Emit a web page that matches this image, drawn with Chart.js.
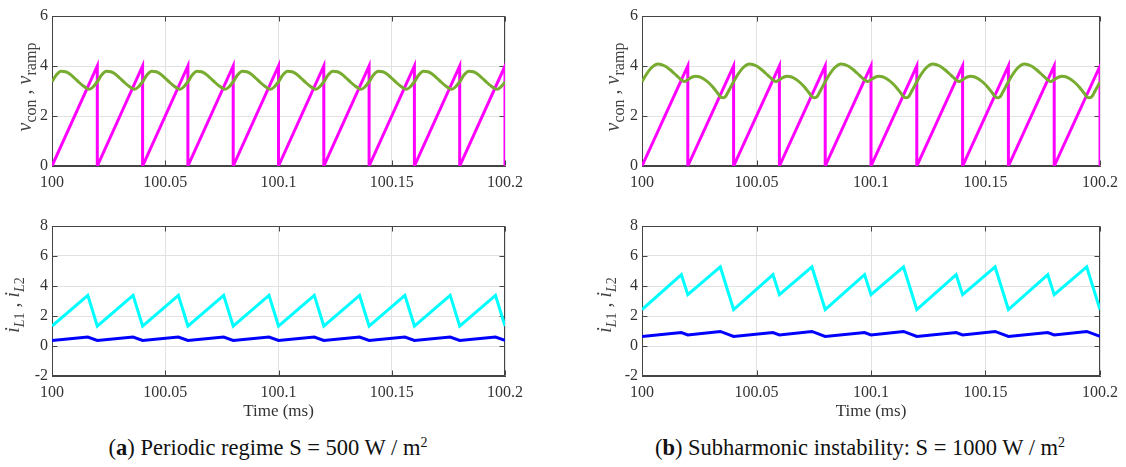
<!DOCTYPE html>
<html>
<head>
<meta charset="utf-8">
<script src="https://cdn.jsdelivr.net/npm/chart.js@4.4.1/dist/chart.umd.min.js"></script>
<style>
  body { margin: 0; background: #fff; }
  #fig { position: relative; width: 1126px; height: 467px; overflow: hidden; font-family: "Liberation Serif", serif; }
  canvas { position: absolute; }
  .ylab { position: absolute; white-space: nowrap; font-size: 20px; color: #444; transform: translate(-50%, -50%) rotate(-90deg); }
  .ylab sub { font-size: 16px; }
  .ylab.cur sub { font-size: 14px; }
  .cap { position: absolute; white-space: nowrap; font-size: 22.5px; color: #111; transform: translate(-50%, -50%); }
  .cap sup { font-size: 14px; }
</style>
</head>
<body>
<div id="fig">
  <canvas id="c1" width="530" height="200" style="left:0;top:0"></canvas>
  <canvas id="c2" width="536" height="200" style="left:590px;top:0"></canvas>
  <canvas id="c3" width="530" height="215" style="left:0;top:210px"></canvas>
  <canvas id="c4" width="536" height="215" style="left:590px;top:210px"></canvas>

  <div class="ylab" style="left:26px;top:87px"><i>v</i><sub>con</sub> , <i>v</i><sub>ramp</sub></div>
  <div class="ylab" style="left:614px;top:87px"><i>v</i><sub>con</sub> , <i>v</i><sub>ramp</sub></div>
  <div class="ylab cur" style="left:14px;top:305px"><i>i</i><sub><i>L</i>1</sub> , <i>i</i><sub><i>L</i>2</sub></div>
  <div class="ylab cur" style="left:606px;top:305px"><i>i</i><sub><i>L</i>1</sub> , <i>i</i><sub><i>L</i>2</sub></div>

  <div class="cap" style="left:268px;top:448px">(<b>a</b>) Periodic regime S = 500 W / m<sup>2</sup></div>
  <div class="cap" style="left:860px;top:448px">(<b>b</b>) Subharmonic instability: S = 1000 W / m<sup>2</sup></div>
</div>
<script>
// time axis is in ms after 100 ms
const xTickLabels = ["100", "100.05", "100.1", "100.15", "100.2"];

// ramp (same in both cases)
const rampT = [0, 0.02, 0.02, 0.04, 0.04, 0.06, 0.06, 0.08, 0.08, 0.10, 0.10,
  0.12, 0.12, 0.14, 0.14, 0.16, 0.16, 0.18, 0.18, 0.20, 0.20];
const rampV = [0, 4, 0, 4, 0, 4, 0, 4, 0, 4, 0, 4, 0, 4, 0, 4, 0, 4, 0, 4, 0];

// (a) control voltage
const vconAT = [
  0.000, 0.002, 0.004, 0.006, 0.008, 0.010, 0.012, 0.014, 0.0155, 0.0165, 0.018,
  0.020, 0.022, 0.024, 0.026, 0.028, 0.030, 0.032, 0.034, 0.0355, 0.0365, 0.038,
  0.040, 0.042, 0.044, 0.046, 0.048, 0.050, 0.052, 0.054, 0.0555, 0.0565, 0.058,
  0.060, 0.062, 0.064, 0.066, 0.068, 0.070, 0.072, 0.074, 0.0755, 0.0765, 0.078,
  0.080, 0.082, 0.084, 0.086, 0.088, 0.090, 0.092, 0.094, 0.0955, 0.0965, 0.098,
  0.100, 0.102, 0.104, 0.106, 0.108, 0.110, 0.112, 0.114, 0.1155, 0.1165, 0.118,
  0.120, 0.122, 0.124, 0.126, 0.128, 0.130, 0.132, 0.134, 0.1355, 0.1365, 0.138,
  0.140, 0.142, 0.144, 0.146, 0.148, 0.150, 0.152, 0.154, 0.1555, 0.1565, 0.158,
  0.160, 0.162, 0.164, 0.166, 0.168, 0.170, 0.172, 0.174, 0.1755, 0.1765, 0.178,
  0.180, 0.182, 0.184, 0.186, 0.188, 0.190, 0.192, 0.194, 0.1955, 0.1965, 0.198,
  0.200];
const vconAV = [
  3.37, 3.65, 3.79, 3.77, 3.67, 3.51, 3.34, 3.19, 3.10, 3.07, 3.15,
  3.37, 3.65, 3.79, 3.77, 3.67, 3.51, 3.34, 3.19, 3.10, 3.07, 3.15,
  3.37, 3.65, 3.79, 3.77, 3.67, 3.51, 3.34, 3.19, 3.10, 3.07, 3.15,
  3.37, 3.65, 3.79, 3.77, 3.67, 3.51, 3.34, 3.19, 3.10, 3.07, 3.15,
  3.37, 3.65, 3.79, 3.77, 3.67, 3.51, 3.34, 3.19, 3.10, 3.07, 3.15,
  3.37, 3.65, 3.79, 3.77, 3.67, 3.51, 3.34, 3.19, 3.10, 3.07, 3.15,
  3.37, 3.65, 3.79, 3.77, 3.67, 3.51, 3.34, 3.19, 3.10, 3.07, 3.15,
  3.37, 3.65, 3.79, 3.77, 3.67, 3.51, 3.34, 3.19, 3.10, 3.07, 3.15,
  3.37, 3.65, 3.79, 3.77, 3.67, 3.51, 3.34, 3.19, 3.10, 3.07, 3.15,
  3.37, 3.65, 3.79, 3.77, 3.67, 3.51, 3.34, 3.19, 3.10, 3.07, 3.15,
  3.36];

// (b) control voltage
const vconBT = [
  0.000, 0.002, 0.004, 0.007, 0.010, 0.012, 0.014, 0.016, 0.0175, 0.0185, 0.020,
  0.022, 0.0235, 0.025, 0.027, 0.029, 0.031, 0.033, 0.0345, 0.0355, 0.0365, 0.038,
  0.040, 0.042, 0.044, 0.047, 0.050, 0.052, 0.054, 0.056, 0.0575, 0.0585, 0.060,
  0.062, 0.0635, 0.065, 0.067, 0.069, 0.071, 0.073, 0.0745, 0.0755, 0.0765, 0.078,
  0.080, 0.082, 0.084, 0.087, 0.090, 0.092, 0.094, 0.096, 0.0975, 0.0985, 0.100,
  0.102, 0.1035, 0.105, 0.107, 0.109, 0.111, 0.113, 0.1145, 0.1155, 0.1165, 0.118,
  0.120, 0.122, 0.124, 0.127, 0.130, 0.132, 0.134, 0.136, 0.1375, 0.1385, 0.140,
  0.142, 0.1435, 0.145, 0.147, 0.149, 0.151, 0.153, 0.1545, 0.1555, 0.1565, 0.158,
  0.160, 0.162, 0.164, 0.167, 0.170, 0.172, 0.174, 0.176, 0.1775, 0.1785, 0.180,
  0.182, 0.1835, 0.185, 0.187, 0.189, 0.191, 0.193, 0.1945, 0.1955, 0.1965, 0.198,
  0.200];
const vconBV = [
  3.37, 3.68, 3.92, 4.08, 4.00, 3.87, 3.71, 3.54, 3.42, 3.38, 3.45,
  3.56, 3.59, 3.57, 3.48, 3.34, 3.15, 2.92, 2.75, 2.73, 2.78, 3.03,
  3.37, 3.68, 3.92, 4.08, 4.00, 3.87, 3.71, 3.54, 3.42, 3.38, 3.45,
  3.56, 3.59, 3.57, 3.48, 3.34, 3.15, 2.92, 2.75, 2.73, 2.78, 3.03,
  3.37, 3.68, 3.92, 4.08, 4.00, 3.87, 3.71, 3.54, 3.42, 3.38, 3.45,
  3.56, 3.59, 3.57, 3.48, 3.34, 3.15, 2.92, 2.75, 2.73, 2.78, 3.03,
  3.37, 3.68, 3.92, 4.08, 4.00, 3.87, 3.71, 3.54, 3.42, 3.38, 3.45,
  3.56, 3.59, 3.57, 3.48, 3.34, 3.15, 2.92, 2.75, 2.73, 2.78, 3.03,
  3.37, 3.68, 3.92, 4.08, 4.00, 3.87, 3.71, 3.54, 3.42, 3.38, 3.45,
  3.56, 3.59, 3.57, 3.48, 3.34, 3.15, 2.92, 2.75, 2.73, 2.78, 3.03,
  3.35];

// (a) inductor currents
const iLAT = [0, 0.0158, 0.02, 0.0358, 0.04, 0.0558, 0.06, 0.0758, 0.08, 0.0958, 0.10,
  0.1158, 0.12, 0.1358, 0.14, 0.1558, 0.16, 0.1758, 0.18, 0.1958, 0.20];
const iL1A = [1.33, 3.38, 1.33, 3.38, 1.33, 3.38, 1.33, 3.38, 1.33, 3.38, 1.33,
  3.38, 1.33, 3.38, 1.33, 3.38, 1.33, 3.38, 1.33, 3.38, 1.33];
const iL2A = [0.37, 0.60, 0.37, 0.60, 0.37, 0.60, 0.37, 0.60, 0.37, 0.60, 0.37,
  0.60, 0.37, 0.60, 0.37, 0.60, 0.37, 0.60, 0.37, 0.60, 0.37];

// (b) inductor currents
const iLBT = [0, 0.0172, 0.02, 0.0342, 0.04, 0.0572, 0.06, 0.0742, 0.08, 0.0972, 0.10,
  0.1142, 0.12, 0.1372, 0.14, 0.1542, 0.16, 0.1772, 0.18, 0.1942, 0.20];
const iL1B = [2.43, 4.75, 3.42, 5.27, 2.43, 4.75, 3.42, 5.27, 2.43, 4.75, 3.42,
  5.27, 2.43, 4.75, 3.42, 5.27, 2.43, 4.75, 3.42, 5.27, 2.43];
const iL2B = [0.64, 0.90, 0.74, 0.97, 0.64, 0.90, 0.74, 0.97, 0.64, 0.90, 0.74,
  0.97, 0.64, 0.90, 0.74, 0.97, 0.64, 0.90, 0.74, 0.97, 0.64];

const GREEN = "#77ac30", MAGENTA = "#ff00ff", CYAN = "#00ffff", BLUE = "#0000ff";
const AXIS = "#444", GRID = "#e2e2e2", TXT = "#333";
const FONT = "Liberation Serif";

function pts(ts, vs) {
  return ts.map((t, i) => ({ x: t, y: vs[i] }));
}

function line(ts, vs, color, smooth) {
  return {
    data: pts(ts, vs),
    borderColor: color,
    borderWidth: 3,
    pointRadius: 0,
    tension: 0,
    cubicInterpolationMode: smooth ? "monotone" : "default",
    borderJoinStyle: "miter"
  };
}

// MATLAB-like box with inward ticks, under the data
const boxPlugin = {
  id: "box",
  beforeDatasetsDraw(chart) {
    const { ctx, chartArea: a, scales } = chart;
    const L = Math.round(a.left) + 0.5, R = Math.round(a.right) - 0.5;
    const T = Math.round(a.top) + 0.5, B = Math.round(a.bottom) - 0.5;
    ctx.save();
    ctx.strokeStyle = AXIS;
    ctx.lineWidth = 1;
    ctx.strokeRect(L, T, R - L, B - T);
    ctx.beginPath();
    scales.x.ticks.forEach(t => {
      const px = Math.round(scales.x.getPixelForValue(t.value)) + 0.5;
      ctx.moveTo(px, B); ctx.lineTo(px, B - 5);
      ctx.moveTo(px, T); ctx.lineTo(px, T + 5);
    });
    scales.y.ticks.forEach(t => {
      const py = Math.round(scales.y.getPixelForValue(t.value)) + 0.5;
      ctx.moveTo(L, py); ctx.lineTo(L + 5, py);
      ctx.moveTo(R, py); ctx.lineTo(R - 5, py);
    });
    ctx.stroke();
    ctx.restore();
  }
};

function panel(id, datasets, yMin, yMax, rightPad, xTitle) {
  const xAxisH = xTitle ? 49 : 34;
  return new Chart(document.getElementById(id), {
    type: "line",
    data: { datasets },
    options: {
      responsive: false,
      animation: false,
      events: [],
      layout: { padding: { left: 0, top: 16, right: rightPad, bottom: 0 }, autoPadding: false },
      plugins: { legend: { display: false }, tooltip: { enabled: false } },
      scales: {
        x: {
          type: "linear",
          min: 0,
          max: 0.2,
          afterFit: s => { s.height = xAxisH; },
          ticks: {
            stepSize: 0.05,
            padding: 7,
            maxRotation: 0,
            color: TXT,
            font: { family: FONT, size: 16 },
            callback: v => xTickLabels[Math.round(v / 0.05)]
          },
          grid: { color: GRID, drawTicks: false },
          border: { color: AXIS },
          title: {
            display: !!xTitle,
            text: xTitle || "",
            color: TXT,
            font: { family: FONT, size: 17 },
            padding: { top: 0, bottom: 3 }
          }
        },
        y: {
          min: yMin,
          max: yMax,
          afterFit: s => { s.width = 52; },
          ticks: { stepSize: 2, padding: 4, color: TXT, font: { family: FONT, size: 16 } },
          grid: { color: GRID, drawTicks: false },
          border: { color: AXIS }
        }
      }
    },
    plugins: [boxPlugin]
  });
}

panel("c1", [line(vconAT, vconAV, GREEN, true), line(rampT, rampV, MAGENTA, false)], 0, 6, 21);
panel("c2", [line(vconBT, vconBV, GREEN, true), line(rampT, rampV, MAGENTA, false)], 0, 6, 26);
panel("c3", [line(iLAT, iL1A, CYAN, false), line(iLAT, iL2A, BLUE, false)], -2, 8, 21, "Time (ms)");
panel("c4", [line(iLBT, iL1B, CYAN, false), line(iLBT, iL2B, BLUE, false)], -2, 8, 26, "Time (ms)");
</script>
</body>
</html>
